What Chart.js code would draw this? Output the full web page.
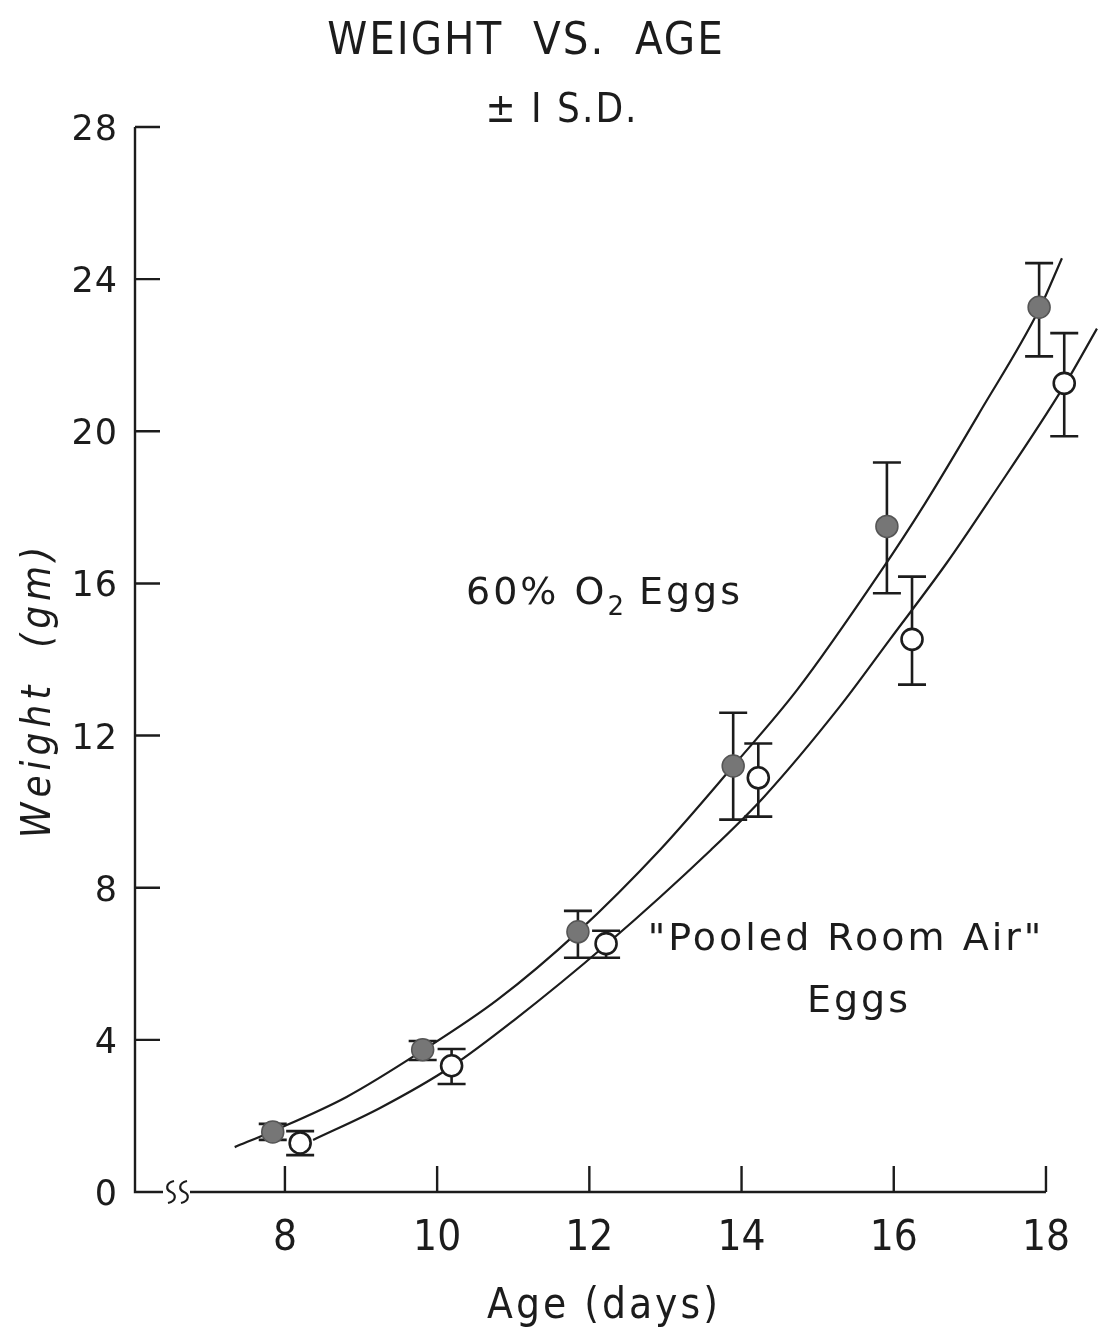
<!DOCTYPE html>
<html>
<head>
<meta charset="utf-8">
<title>Weight vs. Age</title>
<script src="https://cdn.jsdelivr.net/npm/chart.js@4.4.1/dist/chart.umd.min.js"></script>
<style>
  html, body { margin: 0; padding: 0; background: #fff; }
  #wrap { width: 1102px; height: 1341px; position: relative; }
</style>
</head>
<body>
<div id="wrap"><canvas id="chart" width="1102" height="1341"></canvas></div>
<script>
// 60% O2 eggs: mean weight (gm) and +/- 1 S.D. limits
const ageO2 = [7.84, 9.81, 11.85, 13.89, 15.91, 17.91];
const weightO2 = [1.58, 3.74, 6.84, 11.2, 17.5, 23.26];
const lowO2 = [1.37, 3.47, 6.16, 9.79, 15.74, 21.97];
const highO2 = [1.79, 3.97, 7.39, 12.6, 19.18, 24.42];

// "Pooled room air" eggs
const ageAir = [8.2, 10.19, 12.22, 14.22, 16.24, 18.24];
const weightAir = [1.29, 3.32, 6.53, 10.89, 14.53, 21.26];
const lowAir = [0.97, 2.84, 6.16, 9.87, 13.34, 19.87];
const highAir = [1.6, 3.76, 6.87, 11.79, 16.18, 22.58];

// hand-drawn growth curves
const curveO2Age = [7.34, 7.84, 8.81, 9.81, 10.79, 11.85, 12.93, 13.89, 14.73, 15.82, 16.41, 17.13, 17.91, 18.21];
const curveO2Weight = [1.18, 1.6, 2.5, 3.72, 5.05, 6.84, 9.0, 11.2, 13.2, 16.29, 18.1, 20.5, 23.2, 24.55];
const curveAirAge = [8.37, 9.25, 10.19, 11.0, 12.22, 13.6, 14.3, 15.29, 15.95, 16.7, 17.26, 18.24, 18.67];
const curveAirWeight = [1.37, 2.21, 3.3, 4.5, 6.5, 9.0, 10.4, 12.76, 14.53, 16.55, 18.2, 21.2, 22.7];

// axis ticks
const xTicks = [8, 10, 12, 14, 16, 18];
const yTicks = [0, 4, 8, 12, 16, 20, 24, 28];

const INK = '#1c1c1c';
const NARROW = "'Liberation Sans Narrow', 'DejaVu Sans Condensed', 'Liberation Sans', sans-serif";
const PLAIN = "'DejaVu Sans', 'Liberation Sans', sans-serif";

const pts = (xs, ys) => xs.map((x, i) => ({ x: x, y: ys[i] }));

function text(ctx, str, x, y, font, align, spacing) {
  ctx.save();
  ctx.font = font;
  ctx.fillStyle = INK;
  ctx.textAlign = align || 'center';
  ctx.textBaseline = 'alphabetic';
  if (spacing) ctx.letterSpacing = spacing + 'px';
  ctx.fillText(str, x, y);
  ctx.restore();
}

// error bars, drawn under the markers
const errorBars = {
  id: 'errorBars',
  beforeDatasetsDraw(chart) {
    const { ctx, scales: { x, y } } = chart;
    const groups = [[ageO2, lowO2, highO2], [ageAir, lowAir, highAir]];
    ctx.save();
    ctx.strokeStyle = INK;
    ctx.lineWidth = 2.6;
    groups.forEach(([ages, lows, highs]) => {
      ages.forEach((a, i) => {
        const px = x.getPixelForValue(a);
        const pl = y.getPixelForValue(lows[i]);
        const ph = y.getPixelForValue(highs[i]);
        ctx.beginPath();
        ctx.moveTo(px, pl); ctx.lineTo(px, ph);
        ctx.moveTo(px - 14, pl); ctx.lineTo(px + 14, pl);
        ctx.moveTo(px - 14, ph); ctx.lineTo(px + 14, ph);
        ctx.stroke();
      });
    });
    ctx.restore();
  }
};

// hand-lettered axes with inward ticks and a break on the age axis
const frame = {
  id: 'frame',
  beforeDatasetsDraw(chart) {
    const { ctx, scales: { x, y } } = chart;
    const x0 = x.getPixelForValue(x.min);
    const y0 = y.getPixelForValue(0);
    const xEnd = x.getPixelForValue(18);
    ctx.save();
    ctx.strokeStyle = INK;
    ctx.lineWidth = 2.4;
    ctx.lineCap = 'butt';
    ctx.beginPath();
    // weight axis
    ctx.moveTo(x0, y.getPixelForValue(28));
    ctx.lineTo(x0, y0);
    ctx.lineTo(x0 + 28, y0);
    // age axis after the break
    ctx.moveTo(x0 + 55, y0);
    ctx.lineTo(xEnd, y0);
    yTicks.forEach(v => {
      const py = y.getPixelForValue(v);
      ctx.moveTo(x0, py); ctx.lineTo(x0 + 25, py);
    });
    xTicks.forEach(v => {
      const px = x.getPixelForValue(v);
      ctx.moveTo(px, y0); ctx.lineTo(px, y0 - 26);
    });
    ctx.stroke();
    // break marks
    ctx.lineWidth = 2.2;
    [x0 + 36, x0 + 49].forEach(bx => {
      ctx.beginPath();
      ctx.moveTo(bx + 3, y0 - 11);
      ctx.bezierCurveTo(bx - 6, y0 - 9, bx - 5, y0 - 2, bx, y0);
      ctx.bezierCurveTo(bx + 5, y0 + 2, bx + 6, y0 + 9, bx - 3, y0 + 11);
      ctx.stroke();
    });
    ctx.restore();
  },
  afterDraw(chart) {
    const { ctx, scales: { x, y } } = chart;
    const x0 = x.getPixelForValue(x.min);
    yTicks.forEach(v => {
      text(ctx, String(v), x0 - 17, y.getPixelForValue(v) + 13, '35px ' + PLAIN, 'right', 1);
    });
    xTicks.forEach(v => {
      text(ctx, String(v), x.getPixelForValue(v), 1250, '42px ' + NARROW, 'center');
    });
    text(ctx, 'WEIGHT  VS.  AGE', 526, 54, '45px ' + NARROW, 'center', 2);
    text(ctx, '\u00B1 I S.D.', 562, 122, '40px ' + NARROW, 'center', 2);
    text(ctx, 'Age (days)', 604, 1318, '42px ' + NARROW, 'center', 3);

    // rotated weight title
    ctx.save();
    ctx.translate(50, 690);
    ctx.rotate(-Math.PI / 2);
    text(ctx, 'Weight  (gm)', 0, 0, 'italic 40px ' + NARROW, 'center', 5);
    ctx.restore();

    // curve labels
    ctx.save();
    ctx.font = '38px ' + PLAIN;
    ctx.letterSpacing = '3px';
    ctx.fillStyle = INK;
    ctx.textBaseline = 'alphabetic';
    ctx.textAlign = 'left';
    let cx = 466;
    ctx.fillText('60% O', cx, 604);
    cx += ctx.measureText('60% O').width;
    ctx.font = '26px ' + PLAIN;
    ctx.fillText('2', cx, 615);
    cx += ctx.measureText('2').width + 12;
    ctx.font = '38px ' + PLAIN;
    ctx.fillText('Eggs', cx, 604);
    ctx.restore();

    text(ctx, '"Pooled Room Air"', 846, 950, '38px ' + PLAIN, 'center', 3);
    text(ctx, 'Eggs', 859, 1012, '38px ' + PLAIN, 'center', 3);
  }
};

new Chart(document.getElementById('chart'), {
  type: 'scatter',
  data: {
    datasets: [
      {
        label: '60% O2 curve',
        data: pts(curveO2Age, curveO2Weight),
        showLine: true,
        borderColor: INK,
        borderWidth: 2.2,
        pointRadius: 0,
        cubicInterpolationMode: 'monotone',
        order: 3
      },
      {
        label: 'Room air curve',
        data: pts(curveAirAge, curveAirWeight),
        showLine: true,
        borderColor: INK,
        borderWidth: 2.2,
        pointRadius: 0,
        cubicInterpolationMode: 'monotone',
        order: 3
      },
      {
        label: '60% O2 Eggs',
        data: pts(ageO2, weightO2),
        pointRadius: 11,
        pointBackgroundColor: '#767676',
        pointBorderColor: '#555555',
        pointBorderWidth: 1.5,
        order: 1
      },
      {
        label: 'Pooled Room Air Eggs',
        data: pts(ageAir, weightAir),
        pointRadius: 10.5,
        pointBackgroundColor: '#ffffff',
        pointBorderColor: INK,
        pointBorderWidth: 2.6,
        order: 1
      }
    ]
  },
  options: {
    responsive: false,
    animation: false,
    events: [],
    layout: { autoPadding: false, padding: { left: 135, right: 2, top: 127, bottom: 149 } },
    scales: {
      x: { type: 'linear', min: 6.03, max: 18.71, display: false },
      y: { type: 'linear', min: 0, max: 28, display: false }
    },
    plugins: {
      legend: { display: false },
      tooltip: { enabled: false },
      title: { display: false }
    }
  },
  plugins: [errorBars, frame]
});
</script>
</body>
</html>
